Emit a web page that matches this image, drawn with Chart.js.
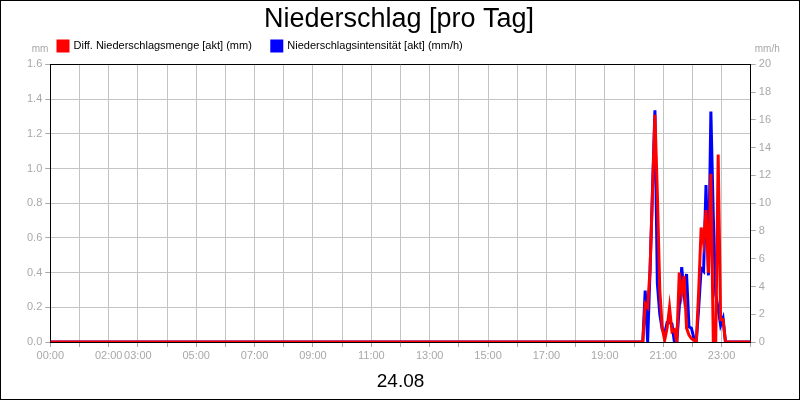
<!DOCTYPE html>
<html lang="de">
<head>
<meta charset="utf-8">
<title>Niederschlag [pro Tag]</title>
<script src="https://cdn.jsdelivr.net/npm/chart.js@4"></script>
<style>
    html, body { margin: 0; padding: 0; background: #fff; }
    #frame {
        width: 800px; height: 400px; box-sizing: border-box;
        border: 1px solid #000; position: relative;
    }
    #frame canvas { display: block; }
</style>
</head>
<body>
<div id="frame"><canvas id="rainChart" width="798" height="398"></canvas></div>
<script>
// Messzeitpunkte (HH:MM) - ausserhalb des Regens alles 0
const rainTimes = [
    "00:00", "20:13", "20:18", "20:23", "20:28", "20:33", "20:38", "20:43", "20:48", "20:53",
    "20:58", "21:03", "21:08", "21:13", "21:18", "21:23", "21:28", "21:33", "21:38", "21:43",
    "21:48", "21:53", "21:58", "22:03", "22:08", "22:13", "22:18", "22:23", "22:28", "22:33",
    "22:38", "22:43", "22:48", "22:53", "22:58", "23:03", "23:08", "23:13", "24:00"
];
// Diff. Niederschlagsmenge [akt] (mm)
const rainAmount = [
    0, 0, 0, 0.22, 0.20, 0.42, 0.86, 1.31, 0.85, 0.30,
    0.08, 0.01, 0.08, 0.20, 0.06, 0.07, 0, 0.40, 0.28, 0.38,
    0.08, 0.04, 0.02, 0.01, 0, 0.30, 0.66, 0.57, 0.76, 0.40,
    0.97, 0, 0, 1.08, 0.13, 0.13, 0, 0, 0
];
// Niederschlagsintensität [akt] (mm/h)
const rainIntensity = [
    0, 0, 0, 3.7, 0, 5.2, 11.0, 16.7, 4.2, 2.0,
    0.9, 0.6, 1.4, 1.4, 1.3, 0, 0, 2.5, 5.4, 3.5,
    4.9, 1.1, 1.0, 0.3, 0, 2.5, 5.3, 5.1, 11.3, 4.8,
    16.6, 9.0, 3.4, 2.4, 1.2, 1.7, 0, 0, 0
];
// Beschriftete Stunden auf der x-Achse
const hourLabels = ["00:00", "02:00", "03:00", "05:00", "07:00", "09:00", "11:00",
                    "13:00", "15:00", "17:00", "19:00", "21:00", "23:00"];
const dayLabel = "24.08";

const FONT = "'Liberation Sans', Arial, sans-serif";
const TICK_GREY = '#a8a8a8';
const GRID_GREY = '#c4c4c4';

function toHours(t) {
    const [h, m] = t.split(':').map(Number);
    return h + m / 60;
}

function toPoints(values) {
    return rainTimes.map((t, i) => ({ x: toHours(t), y: values[i] }));
}

function pad2(n) { return String(n).padStart(2, '0'); }

// Legende etwas nach rechts/oben schieben (Abstand zwischen Eintraegen bleibt gross)
// nur top verschieben, bottom bleibt -> Clip-Bereich wird groesser
const legendShift = {
    id: 'legendShift',
    afterLayout(chart) {
        const lg = chart.legend;
        lg.left += 14;
        lg.right += 14;
        lg.top -= 21;
    }
};

// Rahmen oben um die Zeichenflaeche + Einheiten ueber den Achsen
const framePlugin = {
    id: 'framePlugin',
    afterDraw(chart) {
        const { ctx, chartArea } = chart;
        ctx.save();
        ctx.strokeStyle = '#000';
        ctx.lineWidth = 1;
        ctx.beginPath();
        ctx.moveTo(chartArea.left, Math.round(chartArea.top) + 0.5);
        ctx.lineTo(chartArea.right, Math.round(chartArea.top) + 0.5);
        ctx.stroke();

        ctx.fillStyle = TICK_GREY;
        ctx.font = '10px ' + FONT;
        ctx.textBaseline = 'middle';
        ctx.textAlign = 'right';
        ctx.fillText('mm', chartArea.left - 2, chartArea.top - 15);
        ctx.textAlign = 'left';
        ctx.fillText('mm/h', chartArea.right + 4, chartArea.top - 15);
        ctx.restore();
    }
};

const ctx = document.getElementById('rainChart').getContext('2d');
new Chart(ctx, {
    type: 'line',
    data: {
        datasets: [
            {
                label: 'Diff. Niederschlagsmenge [akt] (mm)',
                data: toPoints(rainAmount),
                borderColor: '#ff0000',
                backgroundColor: '#ff0000',
                borderWidth: 3,
                pointRadius: 0,
                tension: 0,
                yAxisID: 'y'
            },
            {
                label: 'Niederschlagsintensität [akt] (mm/h)',
                data: toPoints(rainIntensity),
                borderColor: '#0000ff',
                backgroundColor: '#0000ff',
                borderWidth: 3,
                pointRadius: 0,
                tension: 0,
                yAxisID: 'y1'
            }
        ]
    },
    options: {
        responsive: false,
        animation: false,
        layout: { padding: { left: 23, right: 25, top: 0, bottom: 6 } },
        plugins: {
            title: {
                display: true,
                text: 'Niederschlag [pro Tag]',
                color: '#000',
                font: { family: FONT, size: 27, weight: 'normal' },
                padding: { top: 2, bottom: 6 }
            },
            legend: {
                position: 'top',
                align: 'start',
                maxHeight: 23,
                labels: {
                    color: '#000',
                    font: { family: FONT, size: 11 },
                    boxWidth: 10,
                    boxHeight: 10,
                    padding: 20
                }
            },
            tooltip: { enabled: false }
        },
        scales: {
            x: {
                type: 'linear',
                min: 0,
                max: 24,
                title: {
                    display: true,
                    text: dayLabel,
                    color: '#000',
                    font: { family: FONT, size: 19 },
                    padding: { top: 6, bottom: 0 }
                },
                ticks: {
                    stepSize: 1,
                    autoSkip: false,
                    maxRotation: 0,
                    color: TICK_GREY,
                    font: { family: FONT, size: 11 },
                    padding: 2,
                    callback: (v) => {
                        const lbl = pad2(v) + ':00';
                        return hourLabels.includes(lbl) ? lbl : '';
                    }
                },
                grid: { color: GRID_GREY, tickLength: 5, tickColor: TICK_GREY },
                border: { color: '#000', width: 1 }
            },
            y: {
                position: 'left',
                min: 0,
                max: 1.6,
                ticks: {
                    stepSize: 0.2,
                    color: TICK_GREY,
                    font: { family: FONT, size: 11 },
                    padding: 3,
                    callback: (v) => v.toFixed(1)
                },
                grid: { color: GRID_GREY, tickLength: 5, tickColor: TICK_GREY },
                border: { color: '#000', width: 1 }
            },
            y1: {
                position: 'right',
                min: 0,
                max: 20,
                ticks: {
                    stepSize: 2,
                    color: TICK_GREY,
                    font: { family: FONT, size: 11 },
                    padding: 3
                },
                grid: { drawOnChartArea: false, tickLength: 5, tickColor: TICK_GREY },
                border: { color: '#000', width: 1 }
            }
        }
    },
    plugins: [legendShift, framePlugin]
});
</script>
</body>
</html>
